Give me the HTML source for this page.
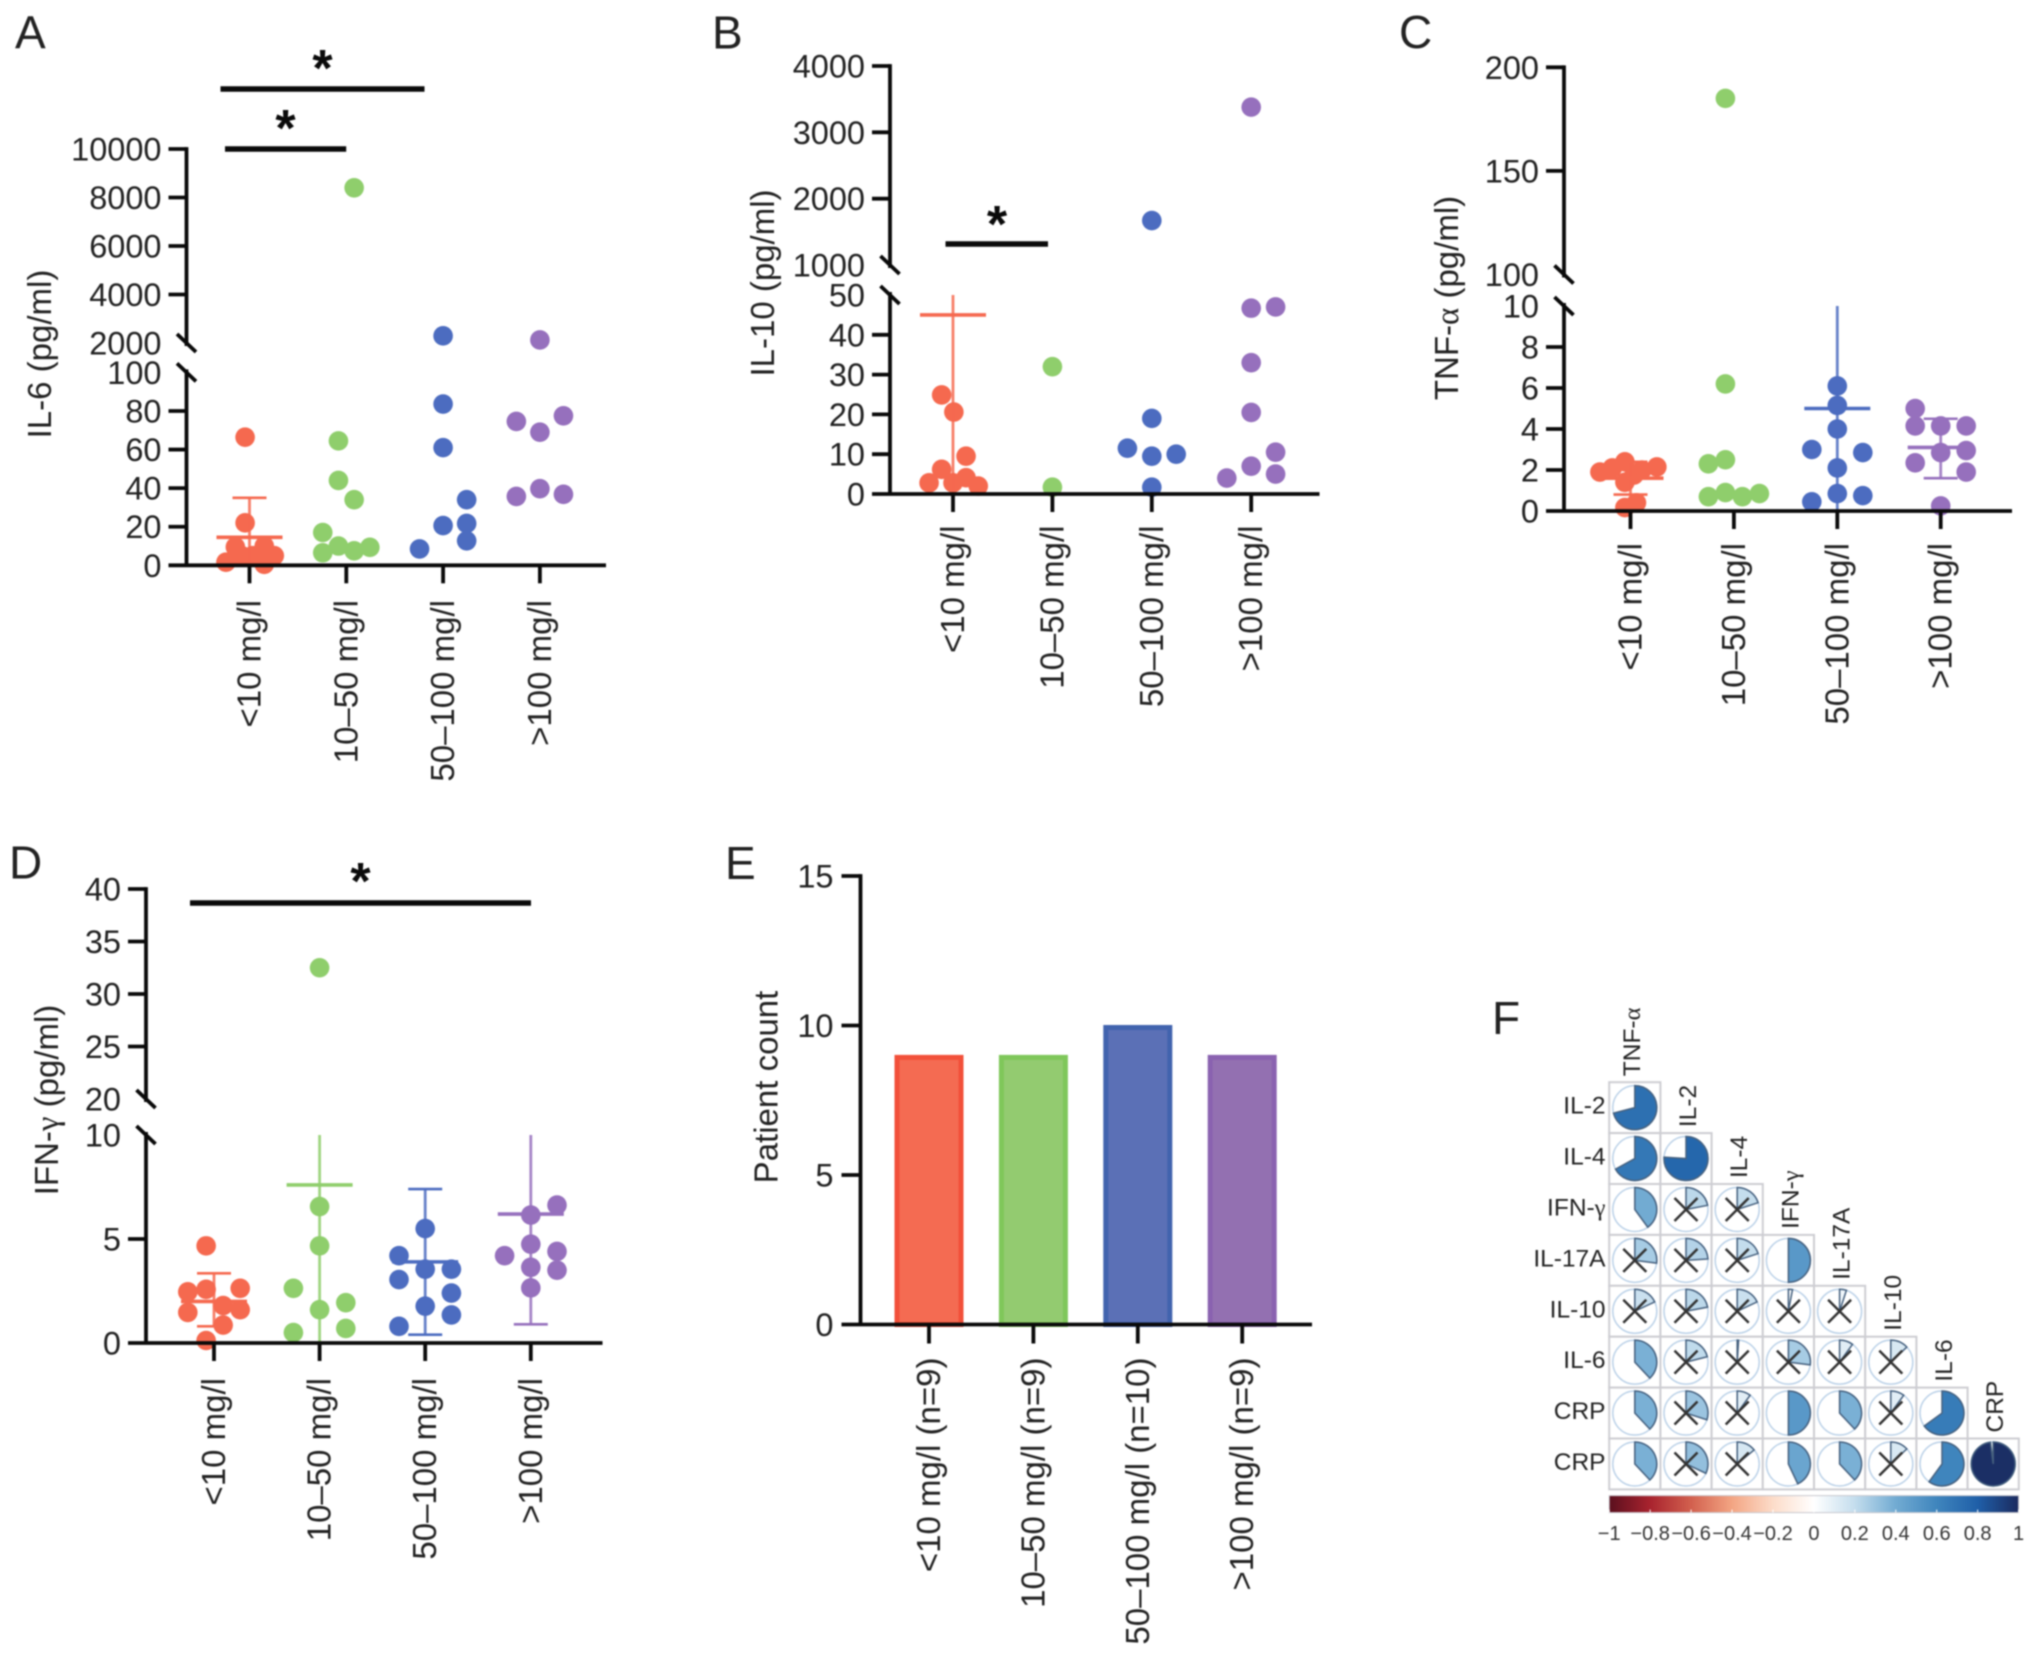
<!DOCTYPE html>
<html lang="en">
<head>
<meta charset="utf-8">
<title>Cytokine levels by CRP group</title>
<style>
html,body{margin:0;padding:0;background:#fff;}
#figure{display:block;width:2032px;height:1653px;filter:blur(0.8px);font-family:"Liberation Sans",Arial,sans-serif;}
text{font-family:"Liberation Sans",Arial,sans-serif;fill:#222;}
</style>
</head>
<body>
<svg id="figure" xmlns="http://www.w3.org/2000/svg" width="2032" height="1653" viewBox="0 0 2032 1653"></svg>
<script>
/* ---------- shared categories ---------- */
const categories = ['<10 mg/l', '10–50 mg/l', '50–100 mg/l', '>100 mg/l'];
const groupKeys = ['lt10', '10-50', '50-100', 'gt100'];

/* ---------- Panel A: IL-6 ---------- */
const il6LowerTicks = [0, 20, 40, 60, 80, 100];
const il6UpperTicks = [2000, 4000, 6000, 8000, 10000];
const il6Values = [
  [66.4, 22, 9.5, 10, 1.6, 5, 5, 5, 0.5],
  [8400, 64.5, 44, 34, 17, 6.5, 10, 7.5, 9.3],
  [2295, 83.6, 61, 34, 21.7, 20.6, 12.7, 8.5],
  [2126, 74.6, 77.5, 69, 39.7, 35.7, 36.8]
];
const il6Swarm = [
  [-0.28, -0.28, -0.9, 0.94, -1.5, -0.5, 0.2, 1.58, 0.94],
  [0.5, -0.5, -0.5, 0.5, -1.5, -1.5, -0.5, 0.5, 1.5],
  [0, 0, 0, 1.5, 1.5, 0, 1.5, -1.5],
  [0, -1.5, 1.5, 0, 0, -1.5, 1.5]
];
const il6Centers = [14.5, null, null, null];
const il6Uppers = [35, null, null, null];
const il6Lowers = [0, null, null, null];

/* ---------- Panel B: IL-10 ---------- */
const il10LowerTicks = [0, 10, 20, 30, 40, 50];
const il10UpperTicks = [1000, 2000, 3000, 4000];
const il10Values = [
  [24.9, 20.6, 9.5, 6.2, 2.8, 2.8, 4.1, 2],
  [32, 1.7],
  [1670, 19, 11.5, 9.5, 10, 1.7],
  [3380, 46.7, 47, 33, 20.5, 10.5, 7, 5, 4]
];
const il10Swarm = [
  [-0.93, 0.07, 1.07, -0.93, -1.96, 0, 1.07, 2.07],
  [0, 0],
  [0, 0, -2, 0, 2, 0],
  [0, 0, 2, 0, 0, 2, 0, 2, -2]
];
const il10Centers = [45, null, null, null];
const il10Uppers = [112, null, null, null];
const il10Lowers = [0, null, null, null];

/* ---------- Panel C: TNF-alpha ---------- */
const tnfLowerTicks = [0, 2, 4, 6, 8, 10];
const tnfUpperTicks = [100, 150, 200];
const tnfValues = [
  [1.9, 2.1, 2.4, 2.0, 2.15, 1.4, 0.4, 0.17, 1.75],
  [185, 6.2, 2.3, 2.5, 0.7, 0.9, 0.7, 0.85],
  [6.1, 5.15, 4.0, 3.0, 2.85, 2.1, 0.85, 0.75, 0.45],
  [5.0, 4.15, 4.15, 4.15, 2.95, 2.85, 2.35, 1.9, 0.25]
];
const tnfSwarm = [
  [-1.8, -1.07, -0.33, 0.67, 1.55, -0.33, 0.35, -0.33, 0.2],
  [-0.5, -0.5, -1.5, -0.5, -1.5, -0.5, 0.5, 1.5],
  [0, 0, 0, -1.5, 1.5, 0, 0, 1.5, -1.5],
  [-1.5, -1.5, 0, 1.5, 1.5, 0, -1.5, 1.5, 0]
];
const tnfCenters = [1.6, null, 5.0, 3.1];
const tnfUppers = [2.4, null, 12, 4.5];
const tnfLowers = [0.8, null, 0, 1.6];

/* ---------- Panel D: IFN-gamma ---------- */
const ifnLowerTicks = [0, 5, 10];
const ifnUpperTicks = [20, 25, 30, 35, 40];
const ifnValues = [
  [4.67, 2.46, 2.58, 2.63, 1.8, 1.6, 1.47, 0.86, 0.12],
  [32.5, 6.56, 4.67, 2.63, 1.94, 1.6, 0.7, 0.5],
  [5.5, 4.2, 3.55, 3.55, 3.05, 2.4, 1.77, 1.35, 0.8],
  [6.63, 6.15, 4.75, 4.2, 4.4, 3.64, 3.5, 2.65]
];
const ifnSwarm = [
  [-0.3, -1, -0.3, 1, 0.35, 1, -1, 0.35, -0.3],
  [0, 0, 0, -1, 1, 0, 1, -1],
  [0, -1, 1, 0, -1, 1, 0, 1, -1],
  [1, 0, 0, -1, 1, 0, 1, 0]
];
const ifnCenters = [2.0, 7.6, 3.9, 6.2];
const ifnUppers = [3.35, 14, 7.4, 14];
const ifnLowers = [0.8, 0, 0.4, 0.9];

/* ---------- Panel E: patient counts ---------- */
const countCategories = ['<10 mg/l (n=9)', '10–50 mg/l (n=9)', '50–100 mg/l (n=10)', '>100 mg/l (n=9)'];
const patientCounts = [9, 9, 10, 9];
const countTicks = [0, 5, 10, 15];

/* ---------- Panel F: correlation matrix ---------- */
const corrRows = ['IL-2', 'IL-4', 'IFN-γ', 'IL-17A', 'IL-10', 'IL-6', 'CRP', 'CRP'];
const corrCols = ['TNF-α', 'IL-2', 'IL-4', 'IFN-γ', 'IL-17A', 'IL-10', 'IL-6', 'CRP'];
const corrValues = [
  [0.71],
  [0.67, 0.76],
  [0.40, 0.22, 0.20],
  [0.27, 0.24, 0.20, 0.50],
  [0.18, 0.22, 0.18, 0.03, 0.05],
  [0.38, 0.21, 0.01, 0.27, 0.10, 0.13],
  [0.38, 0.30, 0.10, 0.50, 0.38, 0.10, 0.65],
  [0.38, 0.32, 0.14, 0.43, 0.38, 0.13, 0.60, 0.98]
];
const corrCrossed = [
  [0],
  [0, 0],
  [0, 1, 1],
  [1, 1, 1, 0],
  [1, 1, 1, 1, 1],
  [0, 1, 1, 1, 1, 1],
  [0, 1, 1, 0, 0, 1, 0],
  [0, 1, 1, 0, 0, 1, 0, 0]
];
const colorbarTicks = [-1, -0.8, -0.6, -0.4, -0.2, 0, 0.2, 0.4, 0.6, 0.8, 1];
const colorbarStopValues = [-1, -0.8, -0.6, -0.4, -0.2, 0, 0.2, 0.4, 0.6, 0.8, 1];
const colorbarStopColors = ['#5a0f1e', '#a8232e', '#d2604e', '#f3a583', '#fcdcc9', '#ffffff', '#c4dded', '#72abd2', '#3f85bd', '#1f5fa8', '#1b2a5e'];

/* ---------- drawing ---------- */
const NS = 'http://www.w3.org/2000/svg';
const svg = document.getElementById('figure');
const groupColors = ['#f5694f', '#8fce6c', '#4c6cc0', '#9670bd'];
const barFills = ['#f46b52', '#93cb70', '#5b70b6', '#9370b1'];
const barStrokes = ['#f2503a', '#7fc75a', '#4163ae', '#8a62b0'];
const INK = '#0a0a0a';

function make(tag, attrs, parent, text) {
  const el = document.createElementNS(NS, tag);
  for (const k in attrs) el.setAttribute(k, attrs[k]);
  if (text !== undefined) el.textContent = text;
  parent.appendChild(el);
  return el;
}
function fmtMinus(v) { return String(v).replace('-', '−'); }

function drawYTitle(parent, prefix, title, x, y) {
  const t = make('text', {transform: 'translate(' + x + ',' + y + ') rotate(-90)', 'text-anchor': 'middle', 'font-size': 33}, parent);
  
  
  const head = document.createElementNS(NS, 'tspan');
  head.textContent = title[0];
  t.appendChild(head);
  if (title[1]) {
    const greek = document.createElementNS(NS, 'tspan');
    greek.setAttribute('style', 'font-family:"Liberation Serif",serif');
    greek.textContent = title[1];
    t.appendChild(greek);
  }
  const tail = document.createElementNS(NS, 'tspan');
  tail.textContent = title[2];
  t.appendChild(tail);
}

function drawPanelLetter(letter, x, y) {
  const t = make('text', {x: x, y: y, 'font-size': 46}, svg, letter);
  
  
}

function drawDotPanel(p) {
  const g = make('g', {}, svg);
  
  

  const lowMax = p.lowerTicks[p.lowerTicks.length - 1];
  const upMin = p.upperTicks[0];
  const upMax = p.upperTicks[p.upperTicks.length - 1];
  const yLow = v => p.y0 + (p.yLowTop - p.y0) * v / lowMax;
  const yUp = v => p.yUpBottom + (p.yUpTop - p.yUpBottom) * (v - upMin) / (upMax - upMin);
  const y = v => v > lowMax ? yUp(v) : yLow(v);
  const xAt = i => p.x0 + p.step * i;

  /* dots */
  p.values.forEach((series, i) => {
    series.forEach((v, j) => {
      const c = make('circle', {cx: xAt(i) + p.swarm[i][j] * p.unit, cy: y(v), r: 9.8, fill: groupColors[i]}, g);
      
      
    });
  });

  /* mean and error bars */
  p.centers.forEach((center, i) => {
    if (center === null) return;
    const top = Math.min(p.uppers[i], lowMax);
    const e = make('g', {stroke: groupColors[i], fill: 'none'}, g);
    
    
    make('line', {x1: xAt(i), x2: xAt(i), y1: yLow(top), y2: yLow(p.lowers[i]), 'stroke-width': 2.8, 'stroke-opacity': 0.85}, e);
    make('line', {x1: xAt(i) - 33, x2: xAt(i) + 33, y1: yLow(center), y2: yLow(center), 'stroke-width': 3.6}, e);
    if (p.uppers[i] <= lowMax) {
      make('line', {x1: xAt(i) - 17, x2: xAt(i) + 17, y1: yLow(p.uppers[i]), y2: yLow(p.uppers[i]), 'stroke-width': 2.6}, e);
    }
    if (p.lowers[i] > 0) {
      make('line', {x1: xAt(i) - 17, x2: xAt(i) + 17, y1: yLow(p.lowers[i]), y2: yLow(p.lowers[i]), 'stroke-width': 2.6}, e);
    }
  });

  /* axes */
  const axis = make('g', {stroke: INK, 'stroke-width': 3.8, fill: 'none'}, g);
  
  
  make('line', {x1: p.ax, x2: p.ax, y1: yUp(upMax) - 1.9, y2: p.yUpBottom + 3}, axis);
  make('line', {x1: p.ax, x2: p.ax, y1: p.yLowTop - 3, y2: p.y0}, axis);
  make('line', {x1: p.ax - 18, x2: p.xEnd, y1: p.y0, y2: p.y0}, axis);
  [p.yUpBottom, p.yLowTop].forEach(by => {
    make('line', {x1: p.ax - 9.5, x2: p.ax + 9.5, y1: by - 9, y2: by + 9}, axis);
  });

  /* y ticks */
  p.lowerTicks.concat(p.upperTicks).forEach((v, k) => {
    const isUpper = k >= p.lowerTicks.length;
    const ty = isUpper ? yUp(v) : yLow(v);
    const isBreak = (isUpper && v === upMin) || (!isUpper && v === lowMax);
    if (!isBreak && v !== 0) make('line', {x1: p.ax - 18, x2: p.ax, y1: ty, y2: ty}, axis);
    const t = make('text', {x: p.ax - 25, y: ty + 11.5, 'text-anchor': 'end', 'font-size': 32.5}, g, String(v));
    
    
  });

  /* x ticks */
  categories.forEach((label, i) => {
    make('line', {x1: xAt(i), x2: xAt(i), y1: p.y0, y2: p.y0 + 18}, axis);
    const t = make('text', {transform: 'translate(' + (xAt(i) + 11) + ',' + p.labelTop + ') rotate(-90)', 'text-anchor': 'end', 'font-size': 33}, g, label);
    
    
  });

  drawYTitle(g, p.id, p.title, p.titleX, p.titleY);

  /* significance annotations */
  p.sig.forEach(s => {
    const b = make('line', {x1: s.x1, x2: s.x2, y1: s.y, y2: s.y, stroke: INK, 'stroke-width': 5.4}, g);
    
    
    const st = make('text', {x: s.sx, y: s.sy + 24, 'text-anchor': 'middle', 'font-size': 52, 'font-weight': 'bold', style: 'fill:#0a0a0a'}, g, '*');
    
    
  });
}

drawDotPanel({
  id: 'il6', title: ['IL-6 (pg/ml)', '', ''], titleX: 51, titleY: 354,
  values: il6Values, swarm: il6Swarm, centers: il6Centers, uppers: il6Uppers, lowers: il6Lowers,
  lowerTicks: il6LowerTicks, upperTicks: il6UpperTicks,
  ax: 186.5, xEnd: 606, x0: 249.5, step: 96.8, unit: 15.7, labelTop: 600,
  y0: 565.3, yLowTop: 372.4, yUpBottom: 343, yUpTop: 149,
  sig: [{x1: 220.5, x2: 424.5, y: 89, sx: 322.5, sy: 62}, {x1: 225, x2: 346.2, y: 149, sx: 285.5, sy: 122}]
});
drawDotPanel({
  id: 'il10', title: ['IL-10 (pg/ml)', '', ''], titleX: 774, titleY: 283,
  values: il10Values, swarm: il10Swarm, centers: il10Centers, uppers: il10Uppers, lowers: il10Lowers,
  lowerTicks: il10LowerTicks, upperTicks: il10UpperTicks,
  ax: 890, xEnd: 1319.5, x0: 953, step: 99.4, unit: 12.2, labelTop: 525.5,
  y0: 494, yLowTop: 295, yUpBottom: 265, yUpTop: 66,
  sig: [{x1: 945.5, x2: 1048, y: 244, sx: 997, sy: 218}]
});
drawDotPanel({
  id: 'tnf', title: ['TNF-', 'α', ' (pg/ml)'], titleX: 1458, titleY: 298,
  values: tnfValues, swarm: tnfSwarm, centers: tnfCenters, uppers: tnfUppers, lowers: tnfLowers,
  lowerTicks: tnfLowerTicks, upperTicks: tnfUpperTicks,
  ax: 1564, xEnd: 2012, x0: 1630.5, step: 103.4, unit: 17, labelTop: 543,
  y0: 511, yLowTop: 306, yUpBottom: 274.5, yUpTop: 67.3,
  sig: []
});
drawDotPanel({
  id: 'ifn', title: ['IFN-', 'γ', ' (pg/ml)'], titleX: 58, titleY: 1100,
  values: ifnValues, swarm: ifnSwarm, centers: ifnCenters, uppers: ifnUppers, lowers: ifnLowers,
  lowerTicks: ifnLowerTicks, upperTicks: ifnUpperTicks,
  ax: 146, xEnd: 602.5, x0: 214, step: 105.6, unit: 26.2, labelTop: 1378,
  y0: 1343, yLowTop: 1135, yUpBottom: 1099, yUpTop: 889,
  sig: [{x1: 190, x2: 531, y: 903, sx: 360.5, sy: 875}]
});

/* Panel E */
(function () {
  const g = make('g', {}, svg);
  
  
  const ax = 860.5, y0 = 1324.5, yTop = 876, x0 = 929, step = 104.4, barW = 64;
  const yMax = countTicks[countTicks.length - 1];
  const y = v => y0 + (yTop - y0) * v / yMax;
  const xAt = i => x0 + step * i;
  patientCounts.forEach((v, i) => {
    const r = make('rect', {x: xAt(i) - barW / 2, y: y(v) + 2, width: barW, height: y0 - y(v) - 2, fill: barFills[i], stroke: barStrokes[i], 'stroke-width': 5}, g);
    
    
  });
  const axis = make('g', {stroke: INK, 'stroke-width': 3.8}, g);
  
  
  make('line', {x1: ax, x2: ax, y1: yTop - 1.9, y2: y0}, axis);
  make('line', {x1: ax - 19, x2: 1312, y1: y0, y2: y0}, axis);
  countTicks.forEach(v => {
    if (v !== 0) make('line', {x1: ax - 19, x2: ax, y1: y(v), y2: y(v)}, axis);
    const t = make('text', {x: ax - 27, y: y(v) + 11.5, 'text-anchor': 'end', 'font-size': 32.5}, g, String(v));
    
    
  });
  countCategories.forEach((label, i) => {
    make('line', {x1: xAt(i), x2: xAt(i), y1: y0, y2: y0 + 19}, axis);
    const t = make('text', {transform: 'translate(' + (xAt(i) + 11) + ',1357.5) rotate(-90)', 'text-anchor': 'end', 'font-size': 33}, g, label);
    
    
  });
  drawYTitle(g, 'patient-count', ['Patient count', '', ''], 777.5, 1087);
})();

/* Panel F */
function hexToRgb(h) { return [1, 3, 5].map(i => parseInt(h.substr(i, 2), 16)); }
function corrColor(v) {
  for (let i = 1; i < colorbarStopValues.length; i++) {
    if (v <= colorbarStopValues[i]) {
      const a = colorbarStopValues[i - 1], b = colorbarStopValues[i];
      const t = (v - a) / (b - a);
      const ca = hexToRgb(colorbarStopColors[i - 1]), cb = hexToRgb(colorbarStopColors[i]);
      return 'rgb(' + ca.map((c, k) => Math.round(c + (cb[k] - c) * t)).join(',') + ')';
    }
  }
  return colorbarStopColors[colorbarStopColors.length - 1];
}
(function () {
  const g = make('g', {}, svg);
  
  
  const gx = 1609.2, gy = 1082.2, cw = 51.2, ch = 50.9, R = 22;
  corrRows.forEach((row, r) => {
    const lab = make('text', {x: 1605.5, y: gy + ch * r + ch / 2 + 6, 'text-anchor': 'end', 'font-size': 24.5}, g);
    
    
    if (row === 'IFN-γ') {
      const a = document.createElementNS(NS, 'tspan');
      a.textContent = 'IFN-';
      lab.appendChild(a);
      const b = document.createElementNS(NS, 'tspan');
      b.setAttribute('style', 'font-family:"Liberation Serif",serif');
      b.textContent = 'γ';
      lab.appendChild(b);
    } else {
      lab.textContent = row;
    }
    corrValues[r].forEach((v, c) => {
      const cx = gx + cw * c + cw / 2, cy = gy + ch * r + ch / 2;
      const cell = make('g', {}, g);
      
      
      make('rect', {x: gx + cw * c, y: gy + ch * r, width: cw, height: ch, fill: '#fff', stroke: '#cdcdd2', 'stroke-width': 2}, cell);
      make('circle', {cx: cx, cy: cy, r: R, fill: '#fff', stroke: '#bcd2e8', 'stroke-width': 1.5}, cell);
      const frac = Math.min(Math.abs(v), 0.9999);
      const ang = frac * 2 * Math.PI;
      const ex = cx + R * Math.sin(ang), ey = cy - R * Math.cos(ang);
      const d = 'M' + cx + ' ' + cy + 'L' + cx + ' ' + (cy - R) + 'A' + R + ' ' + R + ' 0 ' + (frac > 0.5 ? 1 : 0) + ' 1 ' + ex + ' ' + ey + 'Z';
      make('path', {d: d, fill: corrColor(v), stroke: '#46617f', 'stroke-width': 1.5}, cell);
      if (corrCrossed[r][c]) {
        make('path', {d: 'M' + (cx - 11.5) + ' ' + (cy - 11.5) + 'L' + (cx + 11.5) + ' ' + (cy + 11.5) + 'M' + (cx + 11.5) + ' ' + (cy - 11.5) + 'L' + (cx - 11.5) + ' ' + (cy + 11.5), stroke: '#333', 'stroke-width': 2.5, fill: 'none'}, cell);
      }
    });
  });
  corrCols.forEach((col, c) => {
    const cx = gx + cw * c + cw / 2 + (c === 0 ? 5 : 10);
    const by = gy + ch * c - 6;
    const lab = make('text', {transform: 'translate(' + cx + ',' + by + ') rotate(-90)', 'font-size': 24.5}, g);
    
    
    if (col.indexOf('α') >= 0 || col.indexOf('γ') >= 0) {
      const a = document.createElementNS(NS, 'tspan');
      a.textContent = col.slice(0, -1);
      lab.appendChild(a);
      const b = document.createElementNS(NS, 'tspan');
      b.setAttribute('style', 'font-family:"Liberation Serif",serif');
      b.textContent = col.slice(-1);
      lab.appendChild(b);
    } else {
      lab.textContent = col;
    }
  });

  /* colour bar */
  const defs = make('defs', {}, svg);
  const grad = make('linearGradient', {id: 'corr-gradient', x1: 0, x2: 1, y1: 0, y2: 0}, defs);
  colorbarStopValues.forEach((v, i) => {
    make('stop', {offset: (v + 1) / 2, 'stop-color': colorbarStopColors[i]}, grad);
  });
  const bx = 1609.2, bw = 409.4, by = 1495.6, bh = 17;
  const bar = make('rect', {x: bx, y: by, width: bw, height: bh, fill: 'url(#corr-gradient)', stroke: '#c9c9cf', 'stroke-width': 1}, g);
  
  
  colorbarTicks.forEach(v => {
    const tx = bx + (v + 1) / 2 * bw;
    make('line', {x1: tx, x2: tx, y1: by + bh - 3, y2: by + bh, stroke: '#fff', 'stroke-width': 1}, g);
    const t = make('text', {x: tx, y: 1540, 'text-anchor': 'middle', 'font-size': 20, style: 'fill:#333'}, g, fmtMinus(v));
    
    
  });
})();

drawPanelLetter('A', 15, 48.5);
drawPanelLetter('B', 712, 48.5);
drawPanelLetter('C', 1399, 48);
drawPanelLetter('D', 9, 878.5);
drawPanelLetter('E', 725, 879);
drawPanelLetter('F', 1492, 1034);
</script>
</body>
</html>
